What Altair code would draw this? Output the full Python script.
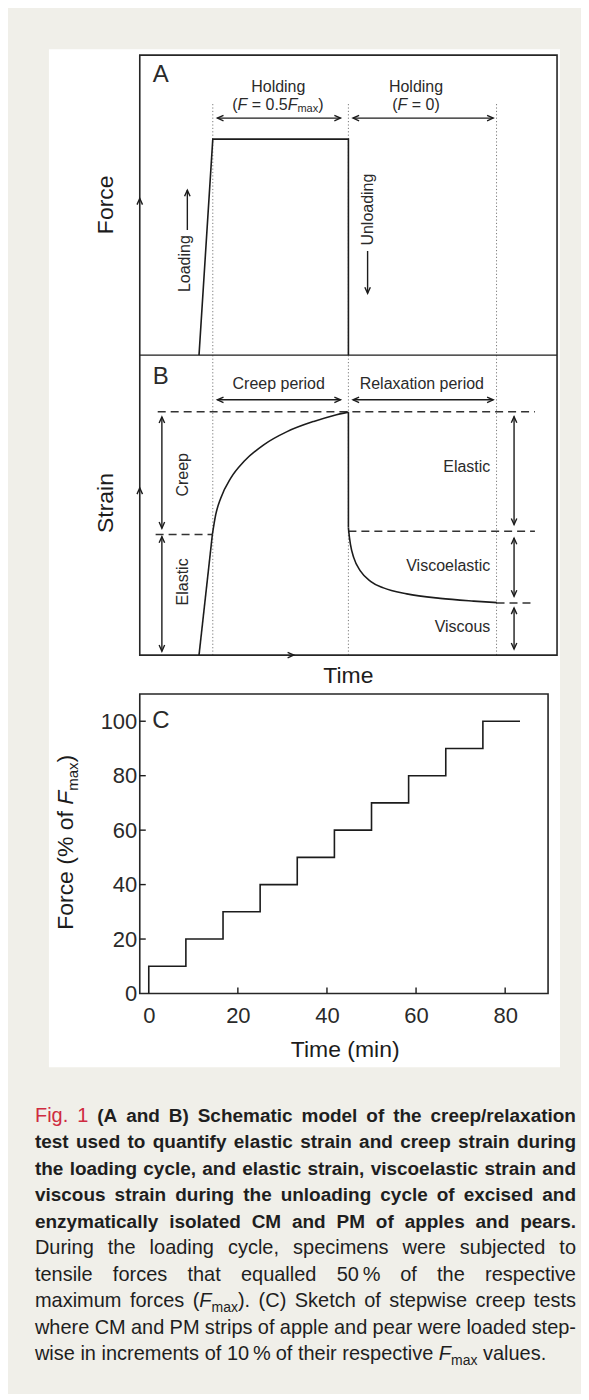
import altair as alt
import pandas as pd

FONT = "Liberation Sans"
INK = "#1c1c1c"
TXT = "#2a2a2a"
DOT = "#7a7a7a"
PAPER = "#f0efe9"
WHITE = "#ffffff"
RED = "#cf2b40"

# ---------------- Panel A (force schedule, schematic units) ----------------
FORCE_T = [14.2, 17.5, 50.0, 50.0]
FORCE_V = [0.0, 72.0, 72.0, 0.0]
A_BASE = 100.0  # panel A stacked above panel B on one shared y axis (B: 0-100, A: 100-200)

# ---------------- Panel B (strain response) ----------------
LOAD_T = [14.2, 17.4]
LOAD_S = [0.0, 40.2]
CREEP_T = [17.4, 18.2, 19.4, 21.8, 25.0, 29.7, 35.3, 41.7, 46.5, 50.0]
CREEP_S = [40.2, 46.8, 52.3, 59.0, 64.6, 70.1, 74.5, 77.9, 79.9, 81.0]
DROP_T = [50.0, 50.0]
DROP_S = [81.0, 42.5]
RELAX_T = [50.0, 50.1, 50.5, 51.3, 52.9, 55.3, 58.4, 64.0, 72.0, 80.0, 85.6]
RELAX_S = [42.5, 41.0, 36.8, 32.4, 28.0, 24.6, 22.4, 20.4, 18.9, 18.0, 17.5]

PHASE_T = [17.5, 50.0, 85.5]
PHASE_TOP = 183.7

LEVEL_Y = [81.1, 40.2, 41.3, 17.4]
LEVEL_X1 = [4.3, 3.8, 50.0, 85.5]
LEVEL_X2 = [94.7, 17.5, 94.7, 94.0]

SPAN_X1 = [18.6, 51.1]
SPAN_X2 = [48.1, 84.7]
SPAN_Y = [179.0, 85.1]

COMP_X = [5.3, 5.3, 89.7, 89.7, 89.7]
COMP_Y1 = [42.3, 1.3, 43.5, 19.6, 2.0]
COMP_Y2 = [79.4, 39.5, 79.5, 39.0, 15.7]

SINGLE_X = [11.4, 54.6]
SINGLE_FROM = [141.7, 134.7]
SINGLE_TO = [155.0, 120.6]

AXHEAD_X = [0.0, 0.0, 36.9]
AXHEAD_Y = [152.2, 55.7, 0.0]
AXHEAD_DIR = ["up", "up", "right"]

# figure backgrounds (in panel A/B data units)
PAGE_X = [-31.4, 105.7]
PAGE_Y = [-245.6, 215.0]
CARD_X = [-21.77, 100.72]
CARD_Y = [-137.44, 202.0]

LETTER_TXT = ["A", "B"]
LETTER_X = [5.0, 5.0]
LETTER_Y = [193.3, 92.8]
HEAD_TXT = ["Holding", "Holding", "Creep period", "Relaxation period"]
HEAD_X = [33.2, 66.2, 33.3, 67.6]
HEAD_Y = [189.3, 189.3, 90.2, 90.2]
RIGHT_TXT = ["Elastic", "Viscoelastic", "Viscous"]
RIGHT_X = [84.0, 84.0, 84.0]
RIGHT_Y = [62.6, 29.6, 9.3]
VERT_TXT = ["Loading", "Unloading", "Creep", "Elastic"]
VERT_X = [10.8, 54.6, 10.3, 10.3]
VERT_Y = [130.5, 148.5, 60.1, 24.4]
TITLE_TXT = ["Force", "Strain"]
TITLE_X = [-8.13, -8.13]
TITLE_Y = [150.1, 50.7]
TIME_X, TIME_Y = 50.0, -7.0

FORMULA_SEGS = [
    [("(", "n"), ("F", "i"), (" = 0.5", "n"), ("F", "i"), ("max", "s"), (")", "n")],
    [("(", "n"), ("F", "i"), (" = 0)", "n")],
]
FORMULA_CX = [33.1, 66.2]
FORMULA_Y = 183.4

# ---------------- Panel C (stepwise creep) ----------------
STEP_TIME = [0, 0, 8.33, 16.67, 25, 33.33, 41.67, 50, 58.33, 66.67, 75, 83.33]
STEP_FORCE = [0, 10, 20, 30, 40, 50, 60, 70, 80, 90, 100, 100]
C_XTICKS = [0, 20, 40, 60, 80]
C_YTICKS = [0, 20, 40, 60, 80, 100]
C_XDOM = [-2.02, 89.63]
C_YDOM = [0, 110]
C_TITLE_SEGS = [("Force (% of ", "n"), ("F", "i"), ("max", "s"), (")", "n")]
C_TITLE_CY = 55.55
C_TITLE_X = -18.6
C_TITLE_SUBX = -16.9

# ---------------- Caption ----------------
CAPTION_LINES = [
    "Fig. 1 (A and B) Schematic model of the creep/relaxation",
    "test used to quantify elastic strain and creep strain during",
    "the loading cycle, and elastic strain, viscoelastic strain and",
    "viscous strain during the unloading cycle of excised and",
    "enzymatically isolated CM and PM of apples and pears.",
    "During the loading cycle, specimens were subjected to",
    "tensile forces that equalled 50\u2009% of the respective",
    "maximum forces (F_max). (C) Sketch of stepwise creep tests",
    "where CM and PM strips of apple and pear were loaded step-",
    "wise in increments of 10\u2009% of their respective F_max values.",
]
CAPTION_BOLD_LINES = 5
CAP_LEFT, CAP_RIGHT = -105.0, 437.0
CAP_BASE0, CAP_LEAD = 89.7, 26.5
CAP_SIZE = {"bold": 19, "reg": 20, "red": 20, "ital": 20, "sub": 14}

# ---------------- text metrics (Arial / Liberation Sans, per 1000 em) -------
_REG = dict(zip("ABCDEFGHIJKLMNOPQRSTUVWXYZ",
                [667, 667, 722, 722, 667, 611, 778, 722, 278, 500, 667, 556, 833, 722, 778, 667, 778, 722, 667, 611, 722, 667, 944, 667, 667, 611]))
_REG.update(zip("abcdefghijklmnopqrstuvwxyz",
                [556, 556, 500, 556, 556, 278, 556, 556, 222, 222, 500, 222, 833, 556, 556, 556, 556, 333, 500, 278, 556, 500, 722, 500, 500, 500]))
_BOLD = dict(zip("ABCDEFGHIJKLMNOPQRSTUVWXYZ",
                 [722, 722, 722, 722, 667, 611, 778, 722, 278, 556, 722, 611, 833, 722, 778, 667, 778, 722, 667, 611, 722, 667, 944, 667, 667, 611]))
_BOLD.update(zip("abcdefghijklmnopqrstuvwxyz",
                 [556, 611, 556, 611, 556, 333, 611, 611, 278, 278, 556, 278, 889, 611, 611, 611, 611, 389, 556, 333, 611, 556, 778, 556, 556, 500]))
for _t in (_REG, _BOLD):
    _t.update({" ": 278, "(": 333, ")": 333, ",": 278, "-": 333, ".": 278, "/": 278,
               "%": 889, "=": 584, "\u2009": 167})
    _t.update({d: 556 for d in "0123456789"})


def tw(s, size, bold=False):
    t = _BOLD if bold else _REG
    return sum(t.get(c, 556) for c in s) * size / 1000.0


# ---------------- scales ----------------
XS = alt.Scale(domain=[0, 100], nice=False, zero=False)
YS = alt.Scale(domain=[0, 200], nice=False, zero=False)
W_AB, H_AB = 418, 601
PX_X = W_AB / 100.0
XSC = alt.Scale(domain=C_XDOM, nice=False, zero=False)
YSC = alt.Scale(domain=C_YDOM, nice=False, zero=False)
W_C, H_C = 409, 300
PX_CY = H_C / (C_YDOM[1] - C_YDOM[0])


def X(f, s):
    return alt.X(f"{f}:Q", scale=s, axis=None)


def Y(f, s):
    return alt.Y(f"{f}:Q", scale=s, axis=None)


def text_layer(df, xs, ys, **kw):
    base = dict(font=FONT, color=TXT, align="center", baseline="middle")
    base.update(kw)
    return alt.Chart(df).mark_text(**base).encode(x=X("x", xs), y=Y("y", ys), text="text:N")


def rect_layer(x1, x2, y1, y2, xs, ys, **kw):
    df = pd.DataFrame({"x": [x1], "x2": [x2], "y": [y1], "y2": [y2]})
    return alt.Chart(df).mark_rect(**kw).encode(
        x=X("x", xs), x2=alt.X2("x2:Q"), y=Y("y", ys), y2=alt.Y2("y2:Q"))


# ---------------- Panel A/B layers ----------------
bg = rect_layer(PAGE_X[0], PAGE_X[1], PAGE_Y[0], PAGE_Y[1], XS, YS, color=PAPER)
card = rect_layer(CARD_X[0], CARD_X[1], CARD_Y[0], CARD_Y[1], XS, YS, color=WHITE)

dots = pd.DataFrame({"x": PHASE_T, "x2": PHASE_T, "y": [0.0] * 3, "y2": [PHASE_TOP] * 3})
dashes = pd.DataFrame({"x": LEVEL_X1, "x2": LEVEL_X2, "y": LEVEL_Y, "y2": LEVEL_Y})
shaft_rows = []
for x1, x2 in zip(SPAN_X1, SPAN_X2):
    for yy in SPAN_Y:
        shaft_rows.append(dict(x=x1, x2=x2, y=yy, y2=yy))
for xx, y1, y2 in zip(COMP_X, COMP_Y1, COMP_Y2):
    shaft_rows.append(dict(x=xx, x2=xx, y=y1, y2=y2))
for xx, y1, y2 in zip(SINGLE_X, SINGLE_FROM, SINGLE_TO):
    shaft_rows.append(dict(x=xx, x2=xx, y=y1, y2=y2))
shaft_rows.append(dict(x=0.0, x2=100.0, y=A_BASE, y2=A_BASE))
shafts = pd.DataFrame(shaft_rows)


def rule_layer(df, **kw):
    return alt.Chart(df).mark_rule(**kw).encode(
        x=X("x", XS), x2=alt.X2("x2:Q"), y=Y("y", YS), y2=alt.Y2("y2:Q"))


dot_l = rule_layer(dots, color=DOT, strokeWidth=1, strokeDash=[1.2, 2.2])
dash_l = rule_layer(dashes, color="#333333", strokeWidth=1.5, strokeDash=[8, 5])
shaft_l = rule_layer(shafts, color=INK, strokeWidth=1.4)

box = rect_layer(0, 100, 0, 200, XS, YS, fillOpacity=0, stroke="#262626", strokeWidth=1.6)

force_df = pd.DataFrame({"x": FORCE_T, "y": [v + A_BASE for v in FORCE_V], "i": range(len(FORCE_T))})
force_l = alt.Chart(force_df).mark_line(color=INK, strokeWidth=1.6).encode(
    x=X("x", XS), y=Y("y", YS), order="i:Q")

strain_rows = []
for name, ts, ss in [("load", LOAD_T, LOAD_S), ("creep", CREEP_T, CREEP_S),
                     ("drop", DROP_T, DROP_S), ("relax", RELAX_T, RELAX_S)]:
    for k, (t, s) in enumerate(zip(ts, ss)):
        strain_rows.append(dict(x=t, y=s, series=name, i=k))
strain_df = pd.DataFrame(strain_rows)
strain_l = alt.Chart(strain_df).mark_line(color=INK, strokeWidth=1.6, interpolate="monotone").encode(
    x=X("x", XS), y=Y("y", YS), detail="series:N", order="i:Q")

head_rows = []
for x1, x2 in zip(SPAN_X1, SPAN_X2):
    for yy in SPAN_Y:
        head_rows.append(dict(x=x1, y=yy, dir="left"))
        head_rows.append(dict(x=x2, y=yy, dir="right"))
for xx, y1, y2 in zip(COMP_X, COMP_Y1, COMP_Y2):
    head_rows.append(dict(x=xx, y=y1, dir="down"))
    head_rows.append(dict(x=xx, y=y2, dir="up"))
for xx, y1, y2 in zip(SINGLE_X, SINGLE_FROM, SINGLE_TO):
    head_rows.append(dict(x=xx, y=y2, dir="up" if y2 > y1 else "down"))
for xx, yy, d in zip(AXHEAD_X, AXHEAD_Y, AXHEAD_DIR):
    head_rows.append(dict(x=xx, y=yy, dir=d))
heads = pd.DataFrame(head_rows)
SHAPES = {
    "right": "M-1,-0.45L0,0L-1,0.45",
    "left": "M1,-0.45L0,0L1,0.45",
    "up": "M-0.45,1L0,0L0.45,1",
    "down": "M-0.45,-1L0,0L0.45,-1",
}
head_l = alt.Chart(heads).mark_point(filled=False, size=150, strokeWidth=1.4, color=INK, opacity=1).encode(
    x=X("x", XS), y=Y("y", YS),
    shape=alt.Shape("dir:N", scale=alt.Scale(domain=list(SHAPES), range=list(SHAPES.values())), legend=None))

letters = text_layer(pd.DataFrame({"x": LETTER_X, "y": LETTER_Y, "text": LETTER_TXT}), XS, YS, fontSize=24)
heads_t = text_layer(pd.DataFrame({"x": HEAD_X, "y": HEAD_Y, "text": HEAD_TXT}), XS, YS, fontSize=16)
right_t = text_layer(pd.DataFrame({"x": RIGHT_X, "y": RIGHT_Y, "text": RIGHT_TXT}), XS, YS, fontSize=16, align="right")
vert_t = text_layer(pd.DataFrame({"x": VERT_X, "y": VERT_Y, "text": VERT_TXT}), XS, YS, fontSize=16, angle=270)
titles_t = text_layer(pd.DataFrame({"x": TITLE_X, "y": TITLE_Y, "text": TITLE_TXT}), XS, YS, fontSize=23, angle=270, color=INK)
time_t = text_layer(pd.DataFrame({"x": [TIME_X], "y": [TIME_Y], "text": ["Time"]}), XS, YS, fontSize=23, color=INK)

FSIZE = {"n": 16, "i": 16, "s": 11}
f_rows = []
for segs, cx in zip(FORMULA_SEGS, FORMULA_CX):
    widths = [tw(t, FSIZE[s]) for t, s in segs]
    total = sum(widths)
    off = -total / 2.0
    for (t, s), w in zip(segs, widths):
        lead = len(t) - len(t.lstrip(" "))
        f_rows.append(dict(x=cx + (off + tw(" " * lead, FSIZE[s])) / PX_X, y=FORMULA_Y, text=t.strip(), st=s))
        off += w
f_df = pd.DataFrame(f_rows)
form_n = text_layer(f_df[f_df.st == "n"], XS, YS, fontSize=16, align="left")
form_i = text_layer(f_df[f_df.st == "i"], XS, YS, fontSize=16, align="left", fontStyle="italic")
form_s = text_layer(f_df[f_df.st == "s"], XS, YS, fontSize=11, align="left", dy=4)

ab = alt.layer(bg, card, dot_l, dash_l, shaft_l, box, force_l, strain_l, head_l,
               letters, heads_t, right_t, vert_t, titles_t, time_t, form_n, form_i, form_s
               ).properties(width=W_AB, height=H_AB)

# ---------------- Panel C layers ----------------
step_df = pd.DataFrame({"t": STEP_TIME, "f": STEP_FORCE, "i": range(len(STEP_TIME))})
axis_common = dict(ticks=False, tickSize=0, domain=False, grid=False, title=None,
                   labelFont=FONT, labelFontSize=22, labelColor=TXT,
                   labelFlush=False, labelOverlap=False, format="d")
step_l = alt.Chart(step_df).mark_line(color=INK, strokeWidth=1.6, interpolate="step-after").encode(
    x=alt.X("t:Q", scale=XSC, axis=alt.Axis(values=C_XTICKS, labelPadding=12, **axis_common)),
    y=alt.Y("f:Q", scale=YSC, axis=alt.Axis(values=C_YTICKS, labelPadding=3, **axis_common)),
    order="i:Q")
c_box = rect_layer(C_XDOM[0], C_XDOM[1], C_YDOM[0], C_YDOM[1], XSC, YSC,
                   fillOpacity=0, stroke="#262626", strokeWidth=1.6)
xt = alt.Chart(pd.DataFrame({"x": C_XTICKS[1:]})).mark_rule(color=INK, strokeWidth=1.4).encode(
    x=X("x", XSC), y=alt.value(H_C), y2=alt.value(H_C - 6))
yt = alt.Chart(pd.DataFrame({"y": C_YTICKS[1:]})).mark_rule(color=INK, strokeWidth=1.4).encode(
    y=Y("y", YSC), x=alt.value(0), x2=alt.value(6))
c_letter = text_layer(pd.DataFrame({"x": [2.7], "y": [100.0], "text": ["C"]}), XSC, YSC, fontSize=24)
c_time = text_layer(pd.DataFrame({"x": [44.1], "y": [-20.9], "text": ["Time (min)"]}), XSC, YSC,
                    fontSize=23, color=INK)

CSIZE = {"n": 23, "i": 23, "s": 15}
ct_rows = []
widths = [tw(t, CSIZE[s]) for t, s in C_TITLE_SEGS]
total = sum(widths)
off = 0.0
for (t, s), w in zip(C_TITLE_SEGS, widths):
    ct_rows.append(dict(x=C_TITLE_SUBX if s == "s" else C_TITLE_X,
                        y=C_TITLE_CY + (off - total / 2.0) / PX_CY, text=t.strip(), st=s))
    off += w
ct_df = pd.DataFrame(ct_rows)
ct_n = text_layer(ct_df[ct_df.st == "n"], XSC, YSC, fontSize=23, angle=270, align="left", color=INK)
ct_i = text_layer(ct_df[ct_df.st == "i"], XSC, YSC, fontSize=23, angle=270, align="left", color=INK,
                  fontStyle="italic")
ct_s = text_layer(ct_df[ct_df.st == "s"], XSC, YSC, fontSize=15, angle=270, align="left", color=INK)

cpanel = alt.layer(c_box, step_l, xt, yt, c_letter, c_time, ct_n, ct_i, ct_s).resolve_axis(
    x="independent", y="independent").properties(width=W_C, height=H_C)

# ---------------- Caption ----------------


def split_word(w, style):
    if "F_max" in w:
        pre, post = w.split("F_max", 1)
        return [(pre, style), ("F", "ital"), ("max", "sub"), (post, style)]
    return [(w, style)]


def seg_w(t, s):
    return tw(t, CAP_SIZE[s], bold=(s == "bold"))


cap_rows = []
for li, line in enumerate(CAPTION_LINES):
    words = line.split(" ")
    segs_per_word = []
    for wi, w in enumerate(words):
        st = "red" if (li == 0 and wi < 2) else ("bold" if li < CAPTION_BOLD_LINES else "reg")
        segs_per_word.append(split_word(w, st))
    widths = [sum(seg_w(t, s) for t, s in segs) for segs in segs_per_word]
    if li < len(CAPTION_LINES) - 1:
        gap = (CAP_RIGHT - CAP_LEFT - sum(widths)) / (len(words) - 1)
    else:
        gap = tw(" ", CAP_SIZE["reg"])
    x = CAP_LEFT
    y = CAP_BASE0 + li * CAP_LEAD
    for segs, w in zip(segs_per_word, widths):
        xx = x
        for t, s in segs:
            if t:
                cap_rows.append(dict(x=xx, y=y, text=t, st=s))
            xx += seg_w(t, s)
        x += w + gap
cap_df = pd.DataFrame(cap_rows)


def cap_layer(st, **kw):
    base = dict(font=FONT, color="#1e1e1e", align="left", baseline="alphabetic", fontSize=CAP_SIZE[st])
    base.update(kw)
    return alt.Chart(cap_df[cap_df.st == st]).mark_text(**base).encode(
        x=alt.X("x:Q", scale=None, axis=None), y=alt.Y("y:Q", scale=None, axis=None), text="text:N")


cap = alt.layer(
    cap_layer("bold", fontWeight="bold"),
    cap_layer("reg"),
    cap_layer("red", color=RED),
    cap_layer("ital", fontStyle="italic"),
    cap_layer("sub", dy=5),
).properties(width=W_C, height=330)

chart = alt.vconcat(ab, cpanel, cap, spacing=39, bounds="flush").properties(
    padding=0, background=PAPER).configure_view(stroke=None)

chart.save("out.html", embed_options={"renderer": "svg", "actions": False})
